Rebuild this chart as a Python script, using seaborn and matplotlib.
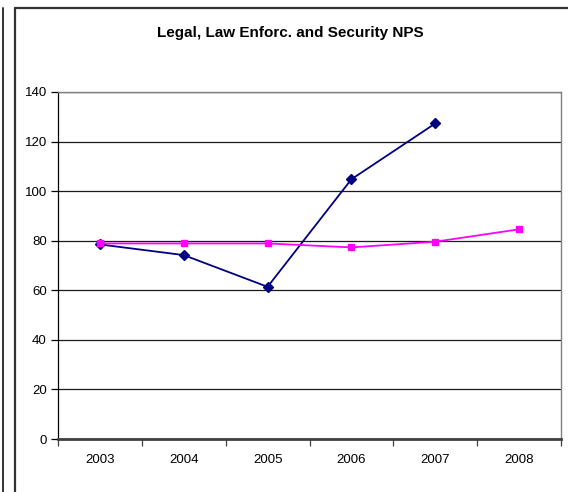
import matplotlib
matplotlib.use("Agg")
import matplotlib.pyplot as plt
import matplotlib.lines as mlines
from matplotlib.ticker import FixedLocator, NullFormatter
import pandas as pd
import seaborn as sns

years = ["2003", "2004", "2005", "2006", "2007", "2008"]
series_a_years = ["2003", "2004", "2005", "2006", "2007"]
series_a = [78.5, 74.2, 61.4, 104.8, 127.3]
series_b = [78.9, 78.9, 78.9, 77.3, 79.6, 84.6]
title = "Legal, Law Enforc. and Security NPS"
y_ticks = [0, 20, 40, 60, 80, 100, 120, 140]

df = pd.concat([
    pd.DataFrame({"year": series_a_years, "nps": series_a, "series": "A"}),
    pd.DataFrame({"year": years, "nps": series_b, "series": "B"}),
], ignore_index=True)

sns.set_theme(style="white")
plt.rcParams["font.family"] = ["Liberation Sans", "DejaVu Sans"]

W, H = 568, 492
fig = plt.figure(figsize=(W / 100, H / 100), dpi=100)
ax = fig.add_axes([58 / W, 1 - 439 / H, (561 - 58) / W, (439 - 92) / H])

sns.pointplot(
    data=df, x="year", y="nps", hue="series", order=years,
    hue_order=["A", "B"], palette={"A": "#000080", "B": "#FF00FF"},
    markers=["D", "s"], linestyles=["-", "-"], errorbar=None,
    markersize=5, linewidth=1.3, legend=False, ax=ax,
)

ax.set_ylim(0, 140)
ax.set_xlim(-0.5, len(years) - 0.5)
ax.set_yticks(y_ticks)
ax.set_yticklabels([str(v) for v in y_ticks])
ax.yaxis.grid(True, color="#1a1a1a", linewidth=0.9)
ax.set_axisbelow(True)
ax.set_xlabel("")
ax.set_ylabel("")

# category ticks: labels centred, tick marks on the boundaries
ax.tick_params(axis="x", which="major", length=0, pad=11, labelsize=9.5, colors="black")
ax.xaxis.set_minor_locator(FixedLocator([i - 0.5 for i in range(len(years) + 1)]))
ax.xaxis.set_minor_formatter(NullFormatter())
ax.tick_params(axis="x", which="minor", bottom=True, length=5, width=0.9, color="#404040")
ax.tick_params(axis="y", left=True, length=5, width=0.9, pad=3, labelsize=9.5,
               colors="black", color="black")

for side in ["left", "right", "top", "bottom"]:
    ax.spines[side].set_visible(True)
ax.spines["left"].set_color("black")
ax.spines["left"].set_linewidth(0.9)
ax.spines["bottom"].set_color("#404040")
ax.spines["bottom"].set_linewidth(2.0)
ax.spines["right"].set_color("#808080")
ax.spines["right"].set_linewidth(1.0)
ax.spines["top"].set_color("#808080")
ax.spines["top"].set_linewidth(1.0)

fig.text(290 / W, 1 - 33 / H, title, ha="center", va="center",
         fontsize=11, fontweight="bold", color="black")

# chart frame and the neighbouring edge line
fig.add_artist(mlines.Line2D([14.5 / W, 14.5 / W], [0, 1 - 7.5 / H],
                             transform=fig.transFigure, color="#333333", linewidth=1.6))
fig.add_artist(mlines.Line2D([14.5 / W, 1], [1 - 7.5 / H, 1 - 7.5 / H],
                             transform=fig.transFigure, color="#333333", linewidth=1.6))
fig.add_artist(mlines.Line2D([3.5 / W, 3.5 / W], [0, 1 - 7.5 / H],
                             transform=fig.transFigure, color="#333333", linewidth=1.4))

fig.savefig("out.png", dpi=100)
